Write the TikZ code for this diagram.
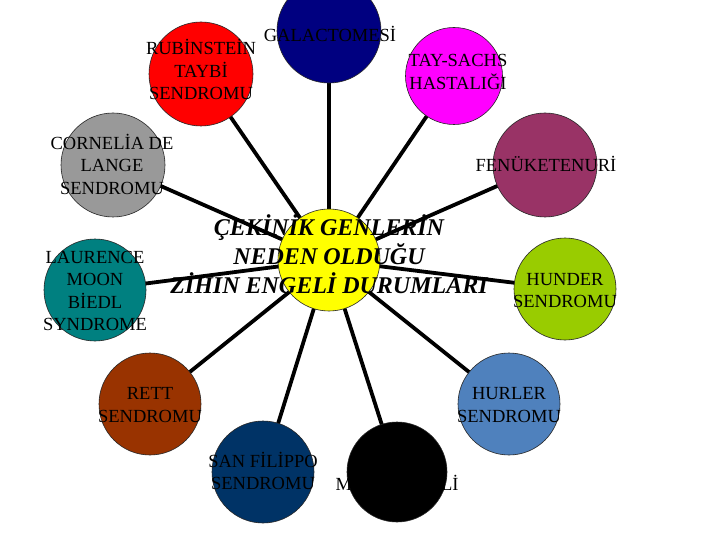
\documentclass[tikz,border=0pt]{standalone}
\usepackage{fontspec}
\setmainfont{Liberation Serif}
\usetikzlibrary{backgrounds}
\definecolor{cnavy}{HTML}{000080}
\definecolor{cred}{HTML}{FF0000}
\definecolor{cmag}{HTML}{FF00FF}
\definecolor{cgray}{HTML}{999999}
\definecolor{cpurp}{HTML}{993366}
\definecolor{cteal}{HTML}{008080}
\definecolor{cgreen}{HTML}{99CC00}
\definecolor{cbrown}{HTML}{993300}
\definecolor{csteel}{HTML}{4F81BD}
\definecolor{cdblue}{HTML}{003366}
\definecolor{cyel}{HTML}{FFFF00}
\begin{document}
\begin{tikzpicture}[x=1pt,y=-1pt,
  disc/.style={circle,draw=black!85,line width=0.6pt,inner sep=0pt,minimum size=#1},
  disc/.default=104pt,
  lbl/.style={align=center,inner sep=0pt,font=\fontsize{18.5}{22.5}\selectfont},
  spoke/.style={line width=3.8pt,black}]
\useasboundingbox (0,0) rectangle (720,540);
% circles
\node[disc=102pt,fill=cyel] (c) at (329,260) {};
\node[disc,fill=cnavy] (gal) at (329,31) {};
\node[disc,fill=cred] (rub) at (201,74) {};
\node[disc=97pt,fill=cmag] (tay) at (454,76) {};
\node[disc,fill=cgray] (cor) at (113,165) {};
\node[disc,fill=cpurp] (fen) at (545,165) {};
\node[disc=102pt,fill=cteal] (lau) at (95,290) {};
\node[disc=102pt,fill=cgreen] (hun) at (565,289) {};
\node[disc=102pt,fill=cbrown] (ret) at (150,404) {};
\node[disc=102pt,fill=csteel] (hur) at (509,404) {};
\node[disc=102pt,fill=cdblue] (san) at (263,472) {};
\node[disc=100pt,fill=black] (mik) at (397,472) {};
% spokes
\begin{scope}[on background layer]
\fill[white] (0,0) rectangle (720,540);
\foreach \t in {gal,rub,tay,cor,fen,lau,hun,ret,hur,san,mik}
  \draw[spoke] (c.center) -- (\t.center);
\end{scope}
% labels
\node[lbl] (tgal) at (330,34) {GALACTOMESİ};
\node[lbl] (trub) at (201,69.5) {RUBİNSTEİN\\TAYBİ\\SENDROMU};
\node[lbl] (ttay) at (458,72) {TAY-SACHS\\HASTALIĞI};
\node[lbl] (tcor) at (112,164) {CORNELİA DE\\LANGE\\SENDROMU};
\node[lbl] (tfen) at (546,164) {FENÜKETENURİ};
\node[lbl] (tlau) at (95,291) {LAURENCE\\MOON\\BİEDL\\SYNDROME};
\node[lbl] (thun) at (565,290.5) {HUNDER\\SENDROMU};
\node[lbl] (tret) at (150,405) {RETT\\SENDROMU};
\node[lbl] (thur) at (509,405) {HURLER\\SENDROMU};
\node[lbl] (tsan) at (263,471) {SAN FİLİPPO\\SENDROMU};
\node[lbl] (tmik) at (397,483) {MİKROSEFALİ};
\node[align=center,inner sep=0pt,font=\fontsize{24}{29}\selectfont\bfseries\itshape] (tc) at (329,254.5)
  {ÇEKİNİK GENLERİN\\NEDEN OLDUĞU\\ZİHİN ENGELİ DURUMLARI};
\end{tikzpicture}
\end{document}
